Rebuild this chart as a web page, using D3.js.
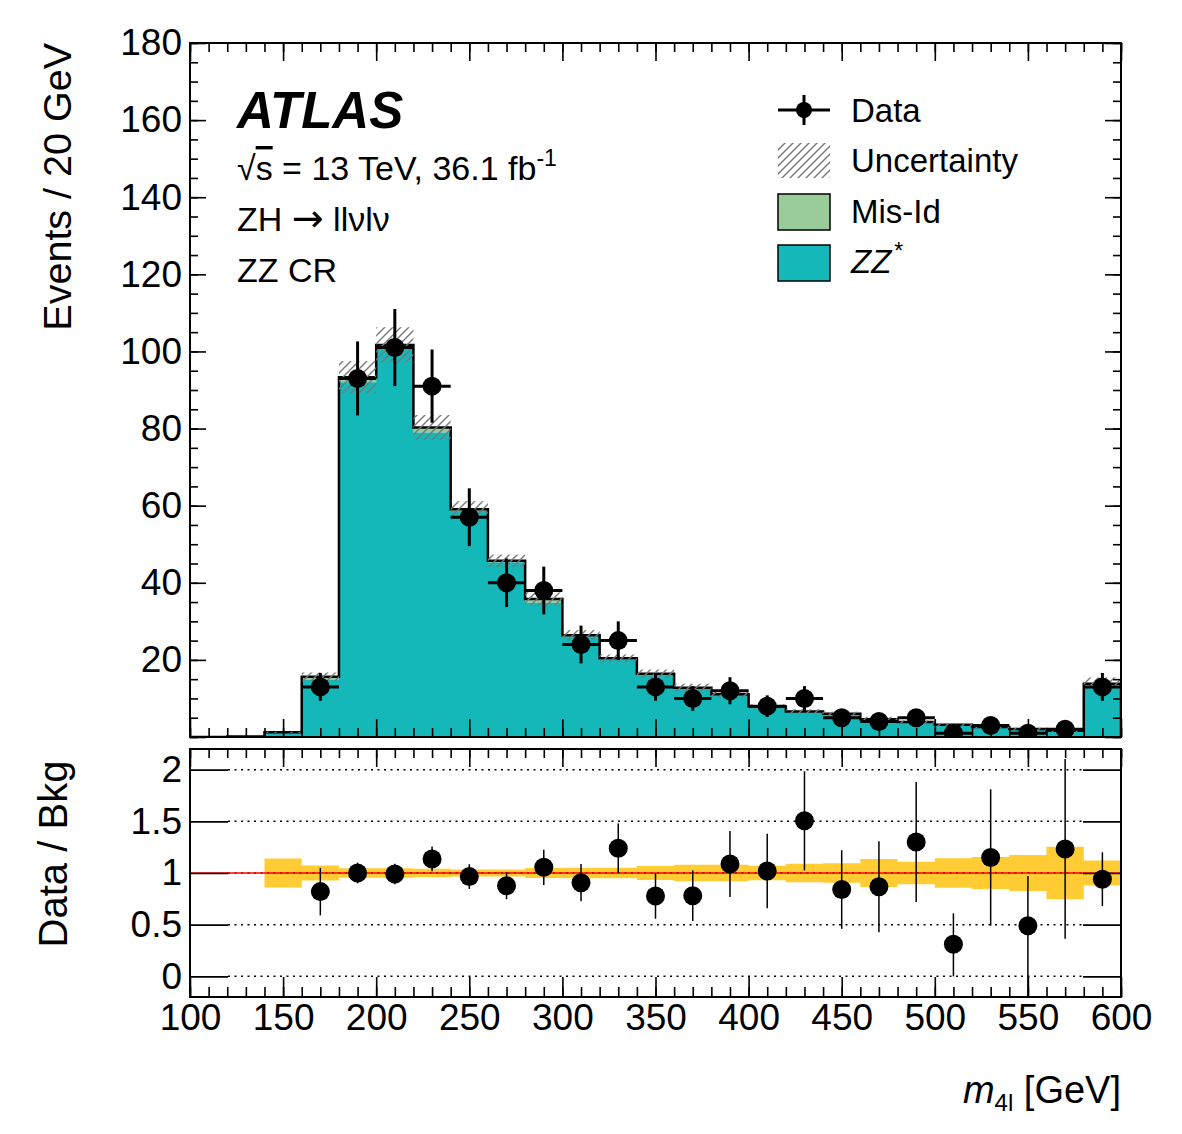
<!DOCTYPE html>
<html><head><meta charset="utf-8">
<script src="https://cdn.jsdelivr.net/npm/d3@7"></script>
<style>
body{margin:0;background:#fff}
text{font-family:"Liberation Sans",Arial,Helvetica,sans-serif;fill:#000}
</style>
</head><body>
<svg id="c" width="1182" height="1134"></svg>
<script>
// ---- data ----
const binLow = [100,120,140,160,180,200,220,240,260,280,300,320,340,360,380,400,420,440,460,480,500,520,540,560,580];
const binWidth = 20;
const zz    = [0,0.1,1.15,14.8,92.0,101.3,79.0,58.6,45.3,34.8,26.1,20.1,16.1,12.6,10.9,7.7,6.4,5.85,4.45,3.75,3.1,2.5,2.0,1.6,13.3];
const misId = [0,0,0.05,0.8,1.3,0.4,1.3,0.5,0.4,1.0,0.3,0.3,0.3,0.2,0.2,0.2,0.2,0.15,0.15,0.15,0.1,0.1,0.05,0.05,0.5];
const relUnc = [0,0,0.14,0.073,0.045,0.045,0.04,0.035,0.035,0.048,0.05,0.05,0.068,0.08,0.08,0.07,0.09,0.094,0.136,0.11,0.142,0.155,0.173,0.254,0.12];
const dataX   = [170,190,210,230,250,270,290,310,330,350,370,390,410,430,450,470,490,510,530,550,570,590];
const dataY   = [13,93,101,91,57,40,38,24,25,13,10,12,8,10,5,4,5,1,3,1,2,13];
const dataErr = [3.6,9.6,10,9.5,7.5,6.3,6.2,4.9,5,3.6,3.2,3.5,2.8,3.2,2.2,2,2.2,1,1.7,1,1.4,3.6];
const ratio      = [0.82,1.0,0.99,1.136,0.965,0.877,1.055,0.906,1.24,0.777,0.78,1.087,1.02,1.505,0.84,0.867,1.30,0.31,1.15,0.49,1.233,0.94];
const ratioErrUp = [0.23,0.1,0.1,0.12,0.12,0.13,0.17,0.18,0.24,0.22,0.245,0.32,0.36,0.48,0.38,0.44,0.58,0.3,0.66,0.48,0.87,0.26];
const ratioErrDn = [0.23,0.1,0.1,0.12,0.12,0.13,0.17,0.18,0.24,0.22,0.245,0.32,0.36,0.48,0.38,0.44,0.58,0.31,0.66,0.75,0.87,0.26];
const xMajor = [100,150,200,250,300,350,400,450,500,550,600];
const xMinor = d3.range(100,601,10);
const yMainMajor = [0,20,40,60,80,100,120,140,160,180];
const yMainMinor = d3.range(0,181,5);
const yRatioMajor = [0,0.5,1,1.5,2];

// ---- colours ----
const cZZ = "#14b8b8", cMis = "#99cc99", cBand = "#ffcc33";

const svg = d3.select("#c");
const L = 190, R = 1121, T1 = 43, B1 = 737, T2 = 749, B2 = 997;
const x = d3.scaleLinear().domain([100,600]).range([L,R]);
const y = d3.scaleLinear().domain([0,180]).range([B1,T1]);
const yr = d3.scaleLinear().domain([-0.2,2.2]).range([B2,T2]);

const defs = svg.append("defs");
const pat = defs.append("pattern").attr("id","hatch").attr("patternUnits","userSpaceOnUse")
  .attr("width",8).attr("height",8);
pat.append("path").attr("d","M0,8 L8,0 M-2,2 L2,-2 M6,10 L10,6")
  .attr("stroke","#777").attr("stroke-width",1.4);
defs.append("clipPath").attr("id","clipM").append("rect").attr("x",L).attr("y",T1).attr("width",R-L).attr("height",B1-T1);
defs.append("clipPath").attr("id","clipR").append("rect").attr("x",L).attr("y",T2).attr("width",R-L).attr("height",B2-T2);

const total = zz.map((v,i)=>v+misId[i]);
const bins = binLow.map((lo,i)=>({lo,hi:lo+binWidth,zz:zz[i],mis:misId[i],tot:total[i],u:relUnc[i]}));

// step points for areas/lines
function steps(acc){const p=[];bins.forEach(d=>{p.push([d.lo,acc(d)]);p.push([d.hi,acc(d)]);});return p;}
const zzSteps = steps(d=>d.zz), totSteps = steps(d=>d.tot);

// ---- main panel ----
const gm = svg.append("g").attr("clip-path","url(#clipM)");
gm.append("path").datum(totSteps.map((p,i)=>[p[0],zzSteps[i][1],p[1]]))
  .attr("d",d3.area().x(d=>x(d[0])).y0(d=>y(d[1])).y1(d=>y(d[2])))
  .attr("fill",cMis);
gm.append("path").datum(zzSteps)
  .attr("d",d3.area().x(d=>x(d[0])).y0(y(0)).y1(d=>y(d[1])))
  .attr("fill",cZZ);
const outline = [[100,0],...totSteps,[600,0]];
gm.append("path").datum(outline)
  .attr("d",d3.line().x(d=>x(d[0])).y(d=>y(d[1])))
  .attr("fill","none").attr("stroke","#000").attr("stroke-width",2.5);
gm.selectAll("rect.unc").data(bins.filter(d=>d.u>0)).join("rect")
  .attr("x",d=>x(d.lo)).attr("width",d=>x(d.hi)-x(d.lo))
  .attr("y",d=>y(d.tot*(1+d.u))).attr("height",d=>y(d.tot*(1-d.u))-y(d.tot*(1+d.u)))
  .attr("fill","url(#hatch)");
const pts = dataX.map((c,i)=>({c,v:dataY[i],e:dataErr[i]}));
gm.selectAll("line.ex").data(pts).join("line")
  .attr("x1",d=>x(d.c-binWidth/2)).attr("x2",d=>x(d.c+binWidth/2))
  .attr("y1",d=>y(d.v)).attr("y2",d=>y(d.v)).attr("stroke","#000").attr("stroke-width",3);
gm.selectAll("line.ey").data(pts).join("line")
  .attr("x1",d=>x(d.c)).attr("x2",d=>x(d.c))
  .attr("y1",d=>y(d.v+d.e)).attr("y2",d=>y(Math.max(d.v-d.e,0))).attr("stroke","#000").attr("stroke-width",3);
gm.selectAll("circle").data(pts).join("circle")
  .attr("cx",d=>x(d.c)).attr("cy",d=>y(d.v)).attr("r",9.5).attr("fill","#000");

// ---- ratio panel ----
const gr = svg.append("g").attr("clip-path","url(#clipR)");
const bandSteps = [];
bins.filter(d=>d.u>0).forEach(d=>{bandSteps.push([d.lo,d.u]);bandSteps.push([d.hi,d.u]);});
gr.append("path").datum(bandSteps)
  .attr("d",d3.area().x(d=>x(d[0])).y0(d=>yr(1-d[1])).y1(d=>yr(1+d[1])))
  .attr("fill",cBand);
gr.selectAll("line.grid").data(yRatioMajor).join("line")
  .attr("x1",L+38).attr("x2",R-38).attr("y1",d=>yr(d)).attr("y2",d=>yr(d))
  .attr("stroke","#000").attr("stroke-width",1.5).attr("stroke-dasharray","2,4.5");

// ---- axes ----
function clean(g){g.select(".domain").remove();g.selectAll("text").style("font-size","37px").attr("fill","#000");g.selectAll("line").attr("stroke","#000").attr("stroke-width",1.6);}
svg.append("g").attr("transform",`translate(${L},0)`).call(d3.axisLeft(y).tickValues(yMainMajor).tickSizeInner(-16).tickSizeOuter(0).tickPadding(8).tickFormat(d=>d===0?"":d)).call(clean);
svg.append("g").attr("transform",`translate(${L},0)`).call(d3.axisLeft(y).tickValues(yMainMinor).tickSizeInner(-8).tickSizeOuter(0).tickFormat("")).call(clean);
svg.append("g").attr("transform",`translate(${R},0)`).call(d3.axisRight(y).tickValues(yMainMajor).tickSizeInner(-16).tickSizeOuter(0).tickFormat("")).call(clean);
svg.append("g").attr("transform",`translate(${R},0)`).call(d3.axisRight(y).tickValues(yMainMinor).tickSizeInner(-8).tickSizeOuter(0).tickFormat("")).call(clean);
[[T1,"top"],[B1,"bottom"],[T2,"top"],[B2,"bottom"]].forEach(([yy,side])=>{
  const mk = side==="top"?d3.axisTop:d3.axisBottom;
  const big = yy===B2?20:18, small = yy===B2?10:9;
  svg.append("g").attr("transform",`translate(0,${yy})`).call(mk(x).tickValues(xMajor).tickSizeInner(-big).tickSizeOuter(0).tickPadding(7).tickFormat(yy===B2?(d=>d):"")).call(clean);
  svg.append("g").attr("transform",`translate(0,${yy})`).call(mk(x).tickValues(xMinor).tickSizeInner(-small).tickSizeOuter(0).tickFormat("")).call(clean);
});
svg.append("g").attr("transform",`translate(${L},0)`).call(d3.axisLeft(yr).tickValues(yRatioMajor).tickSizeInner(-38).tickSizeOuter(0).tickPadding(8).tickFormat(d=>String(d))).call(clean);
svg.append("g").attr("transform",`translate(${R},0)`).call(d3.axisRight(yr).tickValues(yRatioMajor).tickSizeInner(-38).tickSizeOuter(0).tickFormat("")).call(clean);

// red line at 1 and ratio points
gr.append("line").attr("x1",L).attr("x2",R).attr("y1",yr(1)).attr("y2",yr(1)).attr("stroke","#ff0000").attr("stroke-width",1.6);
const rp = dataX.map((c,i)=>({c,v:ratio[i],u:ratioErrUp[i],dn:ratioErrDn[i]}));
gr.selectAll("line.rey").data(rp).join("line")
  .attr("x1",d=>x(d.c)).attr("x2",d=>x(d.c))
  .attr("y1",d=>yr(d.v+d.u)).attr("y2",d=>yr(d.v-d.dn)).attr("stroke","#000").attr("stroke-width",1.5);
gr.selectAll("circle").data(rp).join("circle")
  .attr("cx",d=>x(d.c)).attr("cy",d=>yr(d.v)).attr("r",9.5).attr("fill","#000");

// frames
svg.append("rect").attr("x",L).attr("y",T1).attr("width",R-L).attr("height",B1-T1).attr("fill","none").attr("stroke","#000").attr("stroke-width",2);
svg.append("rect").attr("x",L).attr("y",T2).attr("width",R-L).attr("height",B2-T2).attr("fill","none").attr("stroke","#000").attr("stroke-width",2);

// axis titles
svg.append("text").attr("transform","translate(71,43) rotate(-90)").attr("text-anchor","end").style("font-size","39.5px").text("Events / 20 GeV");
svg.append("text").attr("transform","translate(67,854) rotate(-90)").attr("text-anchor","middle").style("font-size","40px").text("Data / Bkg");
const xt = svg.append("text").attr("x",R).attr("y",1103).attr("text-anchor","end").style("font-size","38px");
xt.append("tspan").style("font-style","italic").text("m");
xt.append("tspan").attr("dy",8).style("font-size","24px").text("4l");
xt.append("tspan").attr("dy",-8).text(" [GeV]");

// ATLAS label and info
svg.append("text").attr("x",237).attr("y",128).style("font-size","51px").style("font-weight","bold").style("font-style","italic").text("ATLAS");
const s1 = svg.append("text").attr("x",237).attr("y",180).style("font-size","34px");
s1.append("tspan").text("√");
s1.append("tspan").style("text-decoration","overline").text("s");
s1.append("tspan").text(" = 13 TeV, 36.1 fb");
s1.append("tspan").attr("dy",-14).style("font-size","23px").text("-1");
const s2 = svg.append("text").attr("x",237).attr("y",231).style("font-size","34px");
s2.append("tspan").text("ZH ");
s2.append("tspan").style("font-family","'DejaVu Sans'").style("font-size","38px").text("→");
s2.append("tspan").text(" llνlν");
svg.append("text").attr("x",237).attr("y",282).style("font-size","34px").text("ZZ CR");

// legend
const lgX = 778, lgW = 52, txX = 851;
svg.append("line").attr("x1",lgX).attr("x2",lgX+lgW).attr("y1",110).attr("y2",110).attr("stroke","#000").attr("stroke-width",3);
svg.append("line").attr("x1",lgX+lgW/2).attr("x2",lgX+lgW/2).attr("y1",95).attr("y2",125).attr("stroke","#000").attr("stroke-width",3);
svg.append("circle").attr("cx",lgX+lgW/2).attr("cy",110).attr("r",8).attr("fill","#000");
svg.append("rect").attr("x",lgX).attr("y",143).attr("width",lgW).attr("height",35).attr("fill","url(#hatch)");
svg.append("rect").attr("x",lgX).attr("y",194).attr("width",lgW).attr("height",36).attr("fill",cMis).attr("stroke","#000").attr("stroke-width",1.5);
svg.append("rect").attr("x",lgX).attr("y",245).attr("width",lgW).attr("height",36).attr("fill",cZZ).attr("stroke","#000").attr("stroke-width",1.5);
const legTexts = [["Data",122],["Uncertainty",172],["Mis-Id",223]];
legTexts.forEach(([t,yy])=>svg.append("text").attr("x",txX).attr("y",yy).style("font-size","33px").text(t));
const zt = svg.append("text").attr("x",txX).attr("y",273).style("font-size","33px");
zt.append("tspan").style("font-style","italic").text("ZZ");
zt.append("tspan").attr("dy",-14).attr("dx",3).style("font-size","23px").text("*");
</script>
</body></html>
